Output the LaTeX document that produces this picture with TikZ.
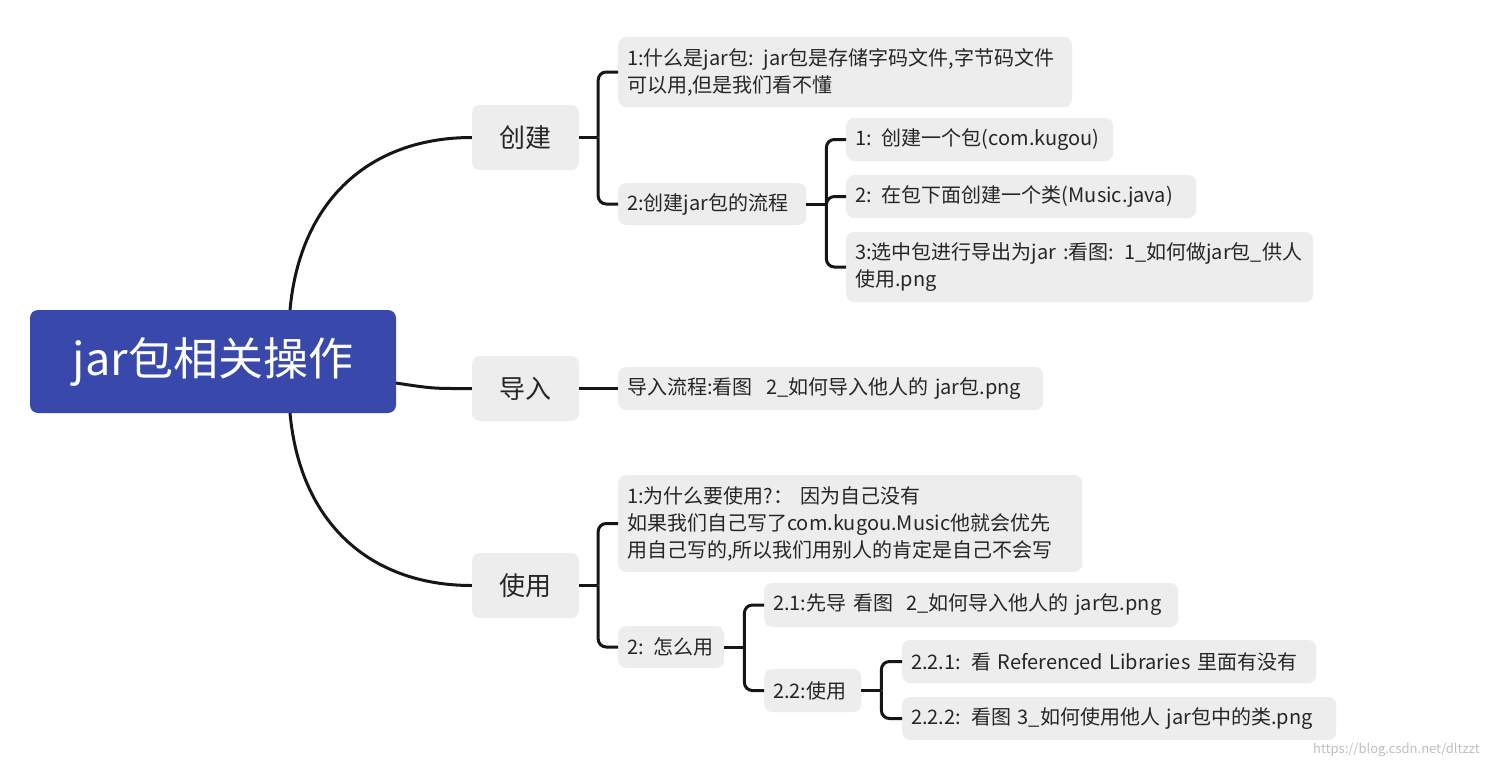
\documentclass[tikz,border=0pt]{standalone}
\usepackage{fontspec}
\newfontfamily\cjk{Noto Sans CJK SC}
\definecolor{rootblue}{RGB}{57,73,171}
\definecolor{boxgray}{RGB}{237,237,237}
\definecolor{linec}{RGB}{22,22,22}
\tikzset{
  rootbox/.style={fill=rootblue, rounded corners=8pt, text=white, minimum width=366pt, minimum height=103pt, inner sep=0pt, font=\cjk\fontsize{45}{50}\selectfont},
  topicbox/.style={fill=boxgray, rounded corners=8pt, minimum width=107pt, minimum height=65pt, inner sep=0pt, text=black!85, font=\cjk\fontsize{26}{30}\selectfont},
  leafbox/.style={fill=boxgray, rounded corners=8pt, anchor=west, align=left, inner xsep=9pt, inner ysep=0pt, text=black!85, font=\cjk\fontsize{20}{27}\selectfont},
  conn/.style={draw=linec, line width=3pt},
  bconn/.style={draw=linec, line width=3pt, rounded corners=8pt}
}
\begin{document}
\begin{tikzpicture}[x=1pt,y=-1pt]
\useasboundingbox[fill=white] (0,0) rectangle (1487,769);
% root and topics
\node[rootbox] (root) at (213,361.5) {jar包相关操作};
\node[topicbox] (cj) at (525.5,137.5) {创建};
\node[topicbox] (dr) at (525.5,388.5) {导入};
\node[topicbox] (sy) at (525.5,585.5) {使用};
% leaves under 创建
\node[leafbox, text width=436pt, minimum height=70pt] (c1) at (618,72) {1:什么是jar包: jar包是存储字码文件,字节码文件\\可以用,但是我们看不懂};
\node[leafbox, text width=170pt, minimum height=42pt] (c2) at (618,204) {2:创建jar包的流程};
\node[leafbox, text width=249pt, minimum height=43pt] (c21) at (846,139.5) {1: 创建一个包(com.kugou)};
\node[leafbox, text width=332pt, minimum height=43pt] (c22) at (846,196.5) {2: 在包下面创建一个类(Music.java)};
\node[leafbox, text width=449pt, minimum height=70pt] (c23) at (846,267) {3:选中包进行导出为jar :看图: 1\_如何做jar包\_供人\\使用.png};
% leaf under 导入
\node[leafbox, text width=407pt, minimum height=43pt] (d1) at (618,388.5) {导入流程:看图\ \ 2\_如何导入他人的 jar包.png};
% leaves under 使用
\node[leafbox, text width=446pt, minimum height=97pt] (s1) at (618,523.5) {1:为什么要使用?：\ 因为自己没有\\如果我们自己写了com.kugou.Music他就会优先\\用自己写的,所以我们用别人的肯定是自己不会写};
\node[leafbox, text width=88pt, minimum height=42pt] (s2) at (618,647) {2: 怎么用};
\node[leafbox, text width=396pt, minimum height=44pt] (s21) at (764,605) {2.1:先导 看图\ \ 2\_如何导入他人的 jar包.png};
\node[leafbox, text width=79pt, minimum height=43pt] (s22) at (764,690.5) {2.2:使用};
\node[leafbox, text width=396pt, minimum height=43pt] (s221) at (902,661.5) {2.2.1: 看 Referenced Libraries 里面有没有};
\node[leafbox, text width=416pt, minimum height=43pt] (s222) at (902,718.5) {2.2.2: 看图 3\_如何使用他人 jar包中的类.png};
% curved connectors from root
\coordinate (rt) at (290,310);
\coordinate (rb) at (290,413);
\coordinate (rr) at (396,383);
\draw[conn] (rt) .. controls (300,200) and (370,137.5) .. (cj.west);
\draw[conn] (rb) .. controls (300,523) and (370,585.5) .. (sy.west);
\draw[conn] (rr) .. controls (435,389) and (435,388.5) .. (dr.west);
% brackets
\coordinate (jcj) at ([xshift=19pt]cj.east);
\draw[conn] (cj.east) -- (jcj);
\draw[bconn] (jcj) |- (c1.west);
\draw[bconn] (jcj) |- (c2.west);
\coordinate (jc2) at ([xshift=20pt]c2.east);
\draw[conn] (c2.east) -- (jc2);
\draw[bconn] (jc2) |- (c21.west);
\draw[bconn] (jc2) |- (c22.west);
\draw[bconn] (jc2) |- (c23.west);
\draw[conn] (dr.east) -- (d1.west);
\coordinate (jsy) at ([xshift=19pt]sy.east);
\draw[conn] (sy.east) -- (jsy);
\draw[bconn] (jsy) |- (s1.west);
\draw[bconn] (jsy) |- (s2.west);
\coordinate (js2) at ([xshift=20pt]s2.east);
\draw[conn] (s2.east) -- (js2);
\draw[bconn] (js2) |- (s21.west);
\draw[bconn] (js2) |- (s22.west);
\coordinate (js22) at ([xshift=20pt]s22.east);
\draw[conn] (s22.east) -- (js22);
\draw[bconn] (js22) |- (s221.west);
\draw[bconn] (js22) |- (s222.west);
% watermark
\node[anchor=east, text=black!25, font=\cjk\fontsize{13}{15}\selectfont, inner sep=0pt] (wm) at (1480,750) {https://blog.csdn.net/dltzzt};
\end{tikzpicture}
\end{document}
